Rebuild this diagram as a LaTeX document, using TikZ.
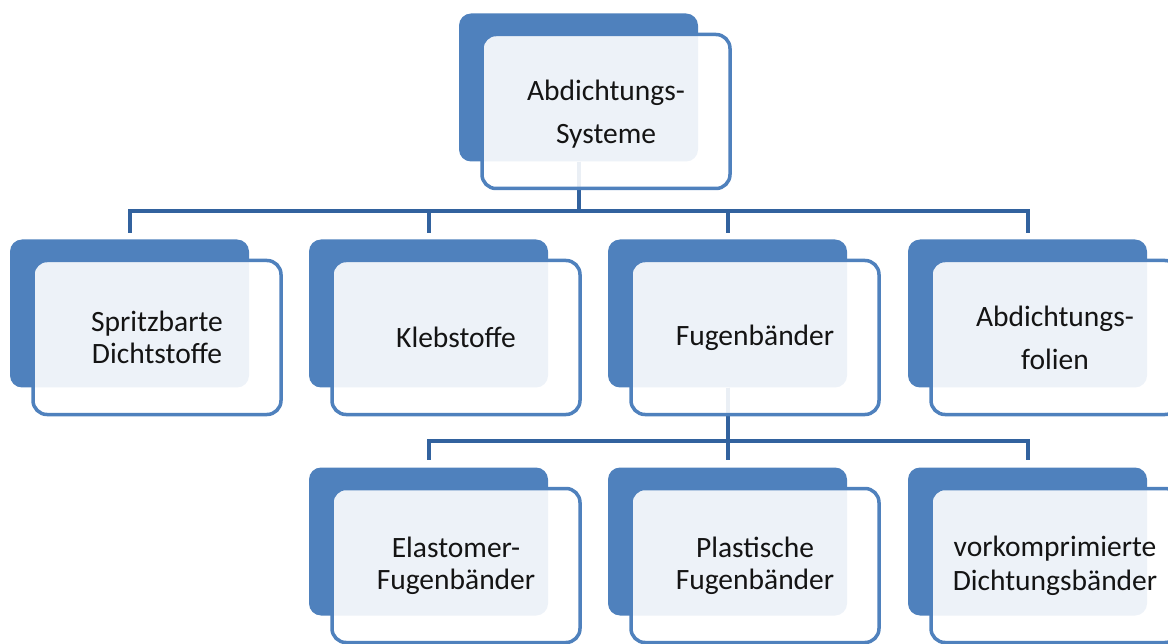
\documentclass[tikz,border=0pt]{standalone}
\usepackage{fontspec}
\setmainfont{Carlito}
\usepackage{xcolor}
\usetikzlibrary{positioning,calc,backgrounds}
\definecolor{boxblue}{RGB}{79,129,189}
\definecolor{lineblue}{RGB}{50,98,158}
\definecolor{txtgray}{RGB}{20,20,20}
\tikzstyle{back}=[rectangle, rounded corners=12pt, fill=boxblue, minimum width=239pt, minimum height=148pt, inner sep=0pt]

\begin{document}
\begin{tikzpicture}[x=1pt,y=-1pt,front/.style={rectangle,rounded corners=14pt,draw=boxblue,line width=3.5pt,fill=white,fill opacity=0.9,text opacity=1,text=txtgray,minimum width=248pt,minimum height=154pt,align=center,font=\fontsize{29.5}{32}\selectfont},link/.style={draw=lineblue,line width=4pt}]
\useasboundingbox (0,0) rectangle (1168,644);
% back plates
\node (sysb) at (578.5,87.5)[back] {};
\node (sprb) at (129.5,313.5)[back] {};
\node (klbb) at (428.5,313.5)[back] {};
\node (fugb) at (727.5,313.5)[back] {};
\node (folb) at (1027.5,313.5)[back] {};
\node (elab) at (428.5,541.5)[back] {};
\node (plab) at (727.5,541.5)[back] {};
\node (vorb) at (1027.5,541.5)[back] {};
% front plates
\node (sys) at ($(sysb)+(27.5,24)$)[front,text depth=0pt,inner ysep=8pt] {Abdichtungs-\\[11pt]Systeme};
\node (spr) at ($(sprb)+(27.5,24)$)[front] {Spritzbarte\\Dichtstoffe};
\node (klb) at ($(klbb)+(27.5,24)$)[front] {Klebstoffe};
\node (fug) at ($(fugb)+(27.5,24)$)[front] {Fugenbänder};
\node (fol) at ($(folb)+(27.5,24)$)[front] {Abdichtungs-\\[11pt]folien};
\node (ela) at ($(elab)+(27.5,24)$)[front] {Elastomer-\\Fugenbänder};
\node (pla) at ($(plab)+(27.5,24)$)[front] {Plastische\\Fugenbänder};
\node (vor) at ($(vorb)+(27.5,24)$)[front] {vorkomprimierte\\[2pt]Dichtungsbänder};
% connectors
\begin{scope}[on background layer]
\draw[link,shorten >=6pt] (sysb.south) -- ++(0,49.5) -| (sprb.north);
\draw[link,shorten >=6pt] (sysb.south) -- ++(0,49.5) -| (klbb.north);
\draw[link,shorten >=6pt] (sysb.south) -- ++(0,49.5) -| (fugb.north);
\draw[link,shorten >=6pt] (sysb.south) -- ++(0,49.5) -| (folb.north);
\draw[link,shorten >=7pt] (fugb.south) -- ++(0,53.5) -| (elab.north);
\draw[link,shorten >=7pt] (fugb.south) -- ++(0,53.5) -| (plab.north);
\draw[link,shorten >=7pt] (fugb.south) -- ++(0,53.5) -| (vorb.north);
\end{scope}
\end{tikzpicture}
\end{document}
